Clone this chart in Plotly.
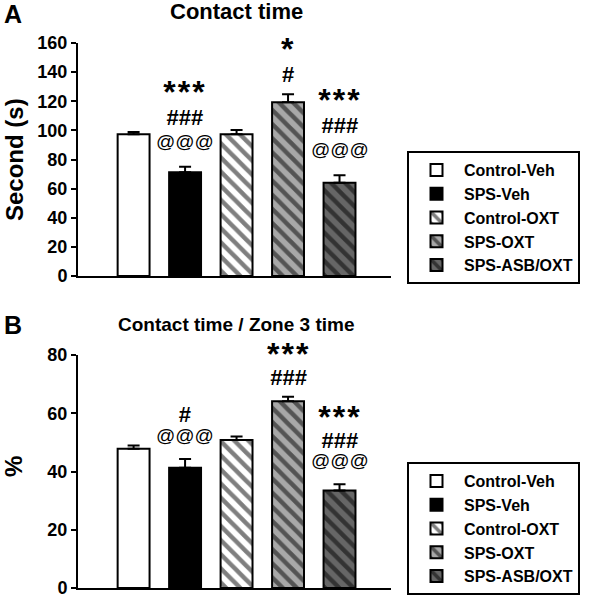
import plotly.graph_objects as go

groups = ["Control-Veh", "SPS-Veh", "Control-OXT", "SPS-OXT", "SPS-ASB/OXT"]
contact_time = [97.3, 71.2, 97.3, 119.3, 64.1]
contact_time_sem = [1.5, 3.8, 3.0, 5.5, 5.0]
contact_ratio = [47.8, 41.3, 50.8, 64.1, 33.5]
contact_ratio_sem = [1.1, 3.0, 1.2, 1.6, 2.1]
marks_A = [[], ["***", "###", "@@@"], [], ["*", "#"], ["***", "###", "@@@"]]
marks_B = [[], ["#", "@@@"], [], ["***", "###"], ["***", "###", "@@@"]]
ticks_A = [0, 20, 40, 60, 80, 100, 120, 140, 160]
ticks_B = [0, 20, 40, 60, 80]

fills = ["white", "black", "white", "#a8a8a8", "#666666"]
shapes_p = ["", "", "\\", "\\", "\\"]
FONT = "Arial, Liberation Sans, sans-serif"
W, H = 594, 597

fig = go.Figure()

def add_panel(vals, sems, xa, ya, leg):
    for i, g in enumerate(groups):
        fig.add_trace(go.Bar(
            x=[g], y=[vals[i]], name=g, width=0.62,
            xaxis=xa, yaxis=ya, legend=leg, showlegend=True,
            marker=dict(color=fills[i], line=dict(color="black", width=2),
                        pattern=dict(shape=shapes_p[i], fgcolor="black", bgcolor=fills[i],
                                     size=10, solidity=0.45, fillmode="overlay")),
            error_y=dict(type="data", array=[sems[i]], arrayminus=[0], symmetric=False,
                         color="black", thickness=2, width=6),
        ))

add_panel(contact_time, contact_time_sem, "x", "y", "legend")
add_panel(contact_ratio, contact_ratio_sem, "x2", "y2", "legend2")

xdom = [78 / W, 391 / W]
axis_common = dict(showline=True, linecolor="black", linewidth=2, showgrid=False,
                   zeroline=False, automargin=False)
yfont = dict(family=FONT, size=18, color="black", weight="bold")
legfont = dict(family=FONT, size=16, color="black", weight="bold")

fig.update_layout(
    width=W, height=H, margin=dict(l=0, r=0, t=0, b=0, autoexpand=False),
    plot_bgcolor="white", paper_bgcolor="white", barmode="overlay",
    xaxis=dict(domain=xdom, anchor="y", type="category", range=[-1.08, 5.0],
               showticklabels=False, ticks="", **axis_common),
    yaxis=dict(domain=[1 - 276 / H, 1 - 43 / H], anchor="x", range=[0, 160], tickvals=ticks_A,
               ticks="outside", ticklen=5, tickwidth=2, tickcolor="black", tickfont=yfont,
               ticklabeloverflow="allow", **axis_common),
    xaxis2=dict(domain=xdom, anchor="y2", type="category", range=[-1.08, 5.0],
                showticklabels=False, ticks="", **axis_common),
    yaxis2=dict(domain=[1 - 588 / H, 1 - 355 / H], anchor="x2", range=[0, 80], tickvals=ticks_B,
                ticks="outside", ticklen=5, tickwidth=2, tickcolor="black", tickfont=yfont,
                ticklabeloverflow="allow", **axis_common),
    legend=dict(x=407 / W, y=1 - 151 / H, xanchor="left", yanchor="top",
                xref="container", yref="container", itemwidth=45,
                bordercolor="black", borderwidth=2, bgcolor="white", tracegroupgap=0,
                font=legfont),
    legend2=dict(x=407 / W, y=1 - 462 / H, xanchor="left", yanchor="top",
                 xref="container", yref="container", itemwidth=45,
                 bordercolor="black", borderwidth=2, bgcolor="white", tracegroupgap=0,
                 font=legfont),
)

ann = []

def fmt_line(m):
    if m.startswith("*"):
        return "<span style='font-size:32px;font-weight:bold;letter-spacing:2px'>" + m + "</span>"
    if m.startswith("#"):
        return "<span style='font-size:22px;font-weight:bold'>" + m + "</span>"
    return "<span style='font-size:19px;font-weight:normal'>" + m + "</span>"

def add_marks(marks, vals, sems, xref, yref, base_size, shift_at, shift_hash):
    for i, lines in enumerate(marks):
        if not lines:
            continue
        text = "<br>".join(fmt_line(m) for m in lines)
        ys = shift_at if lines[-1].startswith("@") else shift_hash
        ann.append(dict(x=groups[i], y=vals[i] + sems[i], xref=xref, yref=yref,
                        text=text, showarrow=False, yanchor="bottom", xanchor="center",
                        yshift=ys,
                        font=dict(family=FONT, color="black", size=base_size)))

add_marks(marks_A, contact_time, contact_time_sem, "x", "y", 17.3, 13, 5)
add_marks(marks_B, contact_ratio, contact_ratio_sem, "x2", "y2", 15, 11, 5)

def txt(x, y, t, size, bold=True, angle=0):
    ann.append(dict(x=x / W, y=1 - y / H, xref="paper", yref="paper", text=t, showarrow=False,
                    xanchor="center", yanchor="middle", textangle=angle,
                    font=dict(family=FONT, size=size, color="black",
                              weight="bold" if bold else "normal")))

txt(13, 14, "A", 25)
txt(13, 325, "B", 25)
txt(236, 11, "Contact time", 22)
txt(236, 325, "Contact time / Zone 3 time", 19)
txt(14, 160, "Second (s)", 24, angle=-90)
txt(13, 467, "%", 24, angle=-90)

fig.update_layout(annotations=ann)
fig.write_html("out.html", config={"displayModeBar": False},
               post_script="document.body.style.margin='0px';document.body.style.overflow='hidden';")
